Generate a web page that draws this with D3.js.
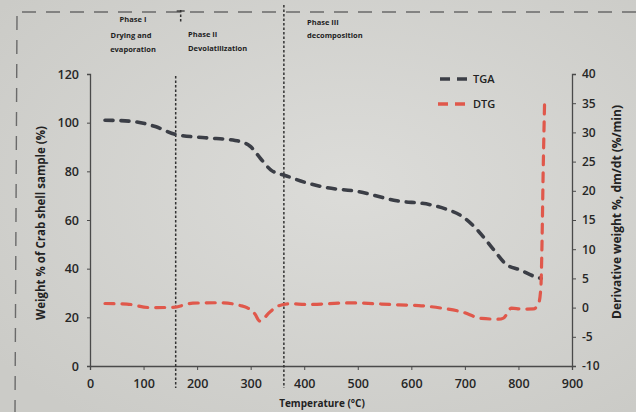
<!DOCTYPE html>
<html><head><meta charset="utf-8">
<script src="https://cdn.jsdelivr.net/npm/d3@7"></script>
<style>body{margin:0;background:#d6d6d2;}svg{display:block}</style>
</head><body><svg id="c" width="636" height="412"></svg>
<script>
// ---- data ----
const tgaTemp   = [28, 75, 122, 159, 215, 271, 299, 318, 338, 367, 404, 442, 498, 573, 635, 666, 697, 727, 754, 778, 802, 830, 842];
const tgaWeight = [101, 100.6, 98.4, 95.2, 93.8, 92.7, 90.3, 85.4, 80.5, 78.1, 75.3, 73.3, 71.8, 67.9, 66.3, 64.4, 61.2, 55.0, 47.7, 41.6, 39.6, 36.8, 36.0];
const dtgTemp = [28, 69, 112, 155, 192, 242, 280, 293, 308, 317, 336, 351, 373, 405, 486, 577, 614, 657, 694, 731, 763, 772, 787, 806, 828, 838, 842, 844, 846, 849];
const dtgRate = [0.7, 0.6, 0.0, 0.05, 0.76, 0.83, 0.37, 0.0, -1.1, -2.3, -0.75, 0.27, 0.66, 0.54, 0.8, 0.47, 0.35, -0.1, -0.73, -1.86, -1.98, -1.8, -0.1, -0.25, -0.22, 0.8, 3.7, 11, 22.4, 35.9];
const xTicks = [0, 100, 200, 300, 400, 500, 600, 700, 800, 900];
const leftTicks = [0, 20, 40, 60, 80, 100, 120];
const rightTicks = [-10, -5, 0, 5, 10, 15, 20, 25, 30, 35, 40];
const phaseTemps = [160, 362];
const seriesNames = ["TGA", "DTG"];
const seriesColors = ["#3b3e46", "#e0584b"];

// ---- layout ----
const svg = d3.select("#c");
const L = 90, R = 572, T = 74, B = 366;
const x = d3.scaleLinear().domain([0, 900]).range([L, R]);
const yL = d3.scaleLinear().domain([0, 120]).range([B, T]);
const yR = d3.scaleLinear().domain([-10, 40]).range([B, T]);

// background gradient
const defs = svg.append("defs");
const g = defs.append("radialGradient").attr("id", "bg").attr("cx", "55%").attr("cy", "45%").attr("r", "70%");
g.append("stop").attr("offset", "0%").attr("stop-color", "#dcdcd9");
g.append("stop").attr("offset", "100%").attr("stop-color", "#cbcbc7");
svg.append("rect").attr("width", 636).attr("height", 412).attr("fill", "url(#bg)");

// dashed frame
svg.append("line").attr("x1", 22).attr("x2", 636).attr("y1", 12).attr("y2", 12)
  .attr("stroke", "#6a6a6a").attr("stroke-width", 1.4).attr("stroke-dasharray", "14,10");
svg.append("line").attr("x1", 17).attr("x2", 15).attr("y1", 16).attr("y2", 412)
  .attr("stroke", "#6a6a6a").attr("stroke-width", 1.4).attr("stroke-dasharray", "14,10");

const tickFont = "'Open Sans', sans-serif";

// axes
const ax = svg.append("g").attr("transform", `translate(0,${B})`)
  .call(d3.axisBottom(x).tickValues(xTicks).tickSize(4).tickPadding(9));
const ayl = svg.append("g").attr("transform", `translate(${L},0)`)
  .call(d3.axisLeft(yL).tickValues(leftTicks).tickSize(3).tickPadding(8));
const ayr = svg.append("g").attr("transform", `translate(${R},0)`)
  .call(d3.axisRight(yR).tickValues(rightTicks).tickSize(4).tickPadding(6)
    .tickFormat(d => d));
[ax, ayl, ayr].forEach(a => {
  a.select(".domain").attr("stroke", "#4a4a4a").attr("stroke-width", 1.3);
  a.selectAll(".tick line").attr("stroke", "#4a4a4a");
  a.selectAll(".tick text").attr("fill", "#262626").style("font-family", tickFont)
    .style("font-weight", "600");
});
ax.selectAll(".tick text").style("font-size", "12.5px");
ayl.selectAll(".tick text").style("font-size", "12.5px");
ayr.selectAll(".tick text").style("font-size", "12px");

// axis titles
svg.append("text").attr("transform", `translate(45,${(T + B) / 2 + 3}) rotate(-90)`)
  .attr("text-anchor", "middle").style("font-family", tickFont).style("font-weight", "bold")
  .style("font-size", "11.5px").attr("fill", "#222").text("Weight % of Crab shell sample (%)");
svg.append("text").attr("transform", `translate(621,${(T + B) / 2 - 8}) rotate(-90)`)
  .attr("text-anchor", "middle").style("font-family", tickFont).style("font-weight", "bold")
  .style("font-size", "12px").attr("fill", "#222").text("Derivative weight %, dm/dt (%/min)");
svg.append("text").attr("x", 322).attr("y", 407)
  .attr("text-anchor", "middle").style("font-family", tickFont).style("font-weight", "bold")
  .style("font-size", "10px").attr("fill", "#222").text("Temperature (°C)");

// phase dividers
svg.append("line").attr("x1", x(phaseTemps[0])).attr("x2", x(phaseTemps[0])).attr("y1", 76).attr("y2", 388)
  .attr("stroke", "#333").attr("stroke-width", 1.5).attr("stroke-dasharray", "2.5,2");
svg.append("line").attr("x1", x(phaseTemps[0]) + 5).attr("x2", x(phaseTemps[0]) + 5).attr("y1", 10).attr("y2", 22)
  .attr("stroke", "#333").attr("stroke-width", 1.5).attr("stroke-dasharray", "2.5,2");
svg.append("line").attr("x1", x(phaseTemps[0]) + 1).attr("x2", x(phaseTemps[0]) + 9).attr("y1", 11).attr("y2", 11)
  .attr("stroke", "#333").attr("stroke-width", 1.3);
svg.append("line").attr("x1", x(phaseTemps[1])).attr("x2", x(phaseTemps[1])).attr("y1", 5).attr("y2", 388)
  .attr("stroke", "#333").attr("stroke-width", 1.5).attr("stroke-dasharray", "2.5,2");

// phase labels
const phaseText = [
  {t: "Phase I", x: 133, y: 22, a: "middle"},
  {t: "Drying and", x: 131, y: 38, a: "middle"},
  {t: "evaporation", x: 133, y: 52, a: "middle"},
  {t: "Phase II", x: 188, y: 37, a: "start"},
  {t: "Devolatilization", x: 188, y: 51, a: "start"},
  {t: "Phase III", x: 307, y: 25, a: "start"},
  {t: "decomposition", x: 307, y: 38, a: "start"}
];
svg.selectAll(".ph").data(phaseText).join("text").attr("class", "ph")
  .attr("x", d => d.x).attr("y", d => d.y).attr("text-anchor", d => d.a)
  .style("font-family", tickFont).style("font-weight", "bold").style("font-size", "7.5px")
  .attr("fill", "#1e1e1e").text(d => d.t);

// series
const tga = tgaTemp.map((t, i) => [t, tgaWeight[i]]);
const dtg = dtgTemp.map((t, i) => [t, dtgRate[i]]);
svg.append("path").datum(tga)
  .attr("d", d3.line().x(d => x(d[0])).y(d => yL(d[1])).curve(d3.curveMonotoneX))
  .attr("fill", "none").attr("stroke", seriesColors[0]).attr("stroke-width", 3.6)
  .attr("stroke-dasharray", "8,8").attr("stroke-linecap", "round");
svg.append("path").datum(dtg)
  .attr("d", d3.line().x(d => x(d[0])).y(d => yR(d[1])).curve(d3.curveMonotoneX))
  .attr("fill", "none").attr("stroke", seriesColors[1]).attr("stroke-width", 3.2)
  .attr("stroke-dasharray", "9,8").attr("stroke-linecap", "round");

// legend
const lg = svg.append("g");
seriesNames.forEach((n, i) => {
  const yy = 79 + i * 25;
  lg.append("line").attr("x1", 440 - i * 2).attr("x2", 470 - i * 2).attr("y1", yy).attr("y2", yy)
    .attr("stroke", seriesColors[i]).attr("stroke-width", 3.6).attr("stroke-dasharray", "10,7");
  lg.append("text").attr("x", 473).attr("y", yy + 4).style("font-family", tickFont)
    .style("font-size", "11px").style("font-weight", "600").attr("fill", "#222").text(n);
});
</script></body></html>
